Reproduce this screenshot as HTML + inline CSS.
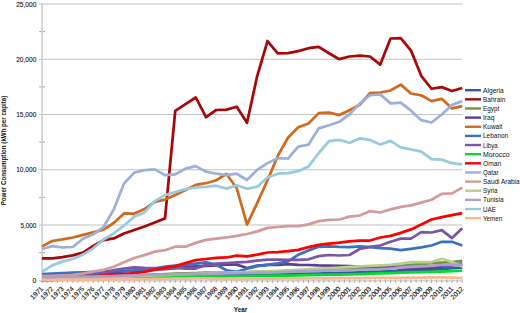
<!DOCTYPE html>
<html><head><meta charset="utf-8"><style>
html,body{margin:0;padding:0;background:#fff;}
body{width:520px;height:313px;overflow:hidden;}
svg{display:block;font-family:"Liberation Sans", sans-serif;}
</style></head><body>
<svg width="520" height="313" viewBox="0 0 520 313">
<line x1="39" y1="225.00" x2="462.3" y2="225.00" stroke="#c2c2c2" stroke-width="1.2"/>
<line x1="39" y1="169.75" x2="462.3" y2="169.75" stroke="#c2c2c2" stroke-width="1.2"/>
<line x1="39" y1="114.50" x2="462.3" y2="114.50" stroke="#c2c2c2" stroke-width="1.2"/>
<line x1="39" y1="59.25" x2="462.3" y2="59.25" stroke="#c2c2c2" stroke-width="1.2"/>
<line x1="39" y1="4.00" x2="462.3" y2="4.00" stroke="#c2c2c2" stroke-width="1.2"/>
<line x1="39.2" y1="252.62" x2="45" y2="252.62" stroke="#a8a8a8" stroke-width="1.0"/>
<line x1="39.2" y1="197.38" x2="45" y2="197.38" stroke="#a8a8a8" stroke-width="1.0"/>
<line x1="39.2" y1="142.12" x2="45" y2="142.12" stroke="#a8a8a8" stroke-width="1.0"/>
<line x1="39.2" y1="86.88" x2="45" y2="86.88" stroke="#a8a8a8" stroke-width="1.0"/>
<line x1="39.2" y1="31.62" x2="45" y2="31.62" stroke="#a8a8a8" stroke-width="1.0"/>
<line x1="42.1" y1="3.5" x2="42.1" y2="280.75" stroke="#cdcdcd" stroke-width="1.6"/>
<line x1="39" y1="280.85" x2="462.3" y2="280.85" stroke="#c9c9c9" stroke-width="1.2"/>
<line x1="42.00" y1="279.35" x2="42.00" y2="282.95" stroke="#a8a8a8" stroke-width="0.9"/>
<line x1="47.12" y1="279.35" x2="47.12" y2="282.95" stroke="#a8a8a8" stroke-width="0.9"/>
<line x1="52.25" y1="279.35" x2="52.25" y2="282.95" stroke="#a8a8a8" stroke-width="0.9"/>
<line x1="57.38" y1="279.35" x2="57.38" y2="282.95" stroke="#a8a8a8" stroke-width="0.9"/>
<line x1="62.50" y1="279.35" x2="62.50" y2="282.95" stroke="#a8a8a8" stroke-width="0.9"/>
<line x1="67.62" y1="279.35" x2="67.62" y2="282.95" stroke="#a8a8a8" stroke-width="0.9"/>
<line x1="72.75" y1="279.35" x2="72.75" y2="282.95" stroke="#a8a8a8" stroke-width="0.9"/>
<line x1="77.88" y1="279.35" x2="77.88" y2="282.95" stroke="#a8a8a8" stroke-width="0.9"/>
<line x1="83.00" y1="279.35" x2="83.00" y2="282.95" stroke="#a8a8a8" stroke-width="0.9"/>
<line x1="88.12" y1="279.35" x2="88.12" y2="282.95" stroke="#a8a8a8" stroke-width="0.9"/>
<line x1="93.25" y1="279.35" x2="93.25" y2="282.95" stroke="#a8a8a8" stroke-width="0.9"/>
<line x1="98.38" y1="279.35" x2="98.38" y2="282.95" stroke="#a8a8a8" stroke-width="0.9"/>
<line x1="103.50" y1="279.35" x2="103.50" y2="282.95" stroke="#a8a8a8" stroke-width="0.9"/>
<line x1="108.62" y1="279.35" x2="108.62" y2="282.95" stroke="#a8a8a8" stroke-width="0.9"/>
<line x1="113.75" y1="279.35" x2="113.75" y2="282.95" stroke="#a8a8a8" stroke-width="0.9"/>
<line x1="118.88" y1="279.35" x2="118.88" y2="282.95" stroke="#a8a8a8" stroke-width="0.9"/>
<line x1="124.00" y1="279.35" x2="124.00" y2="282.95" stroke="#a8a8a8" stroke-width="0.9"/>
<line x1="129.12" y1="279.35" x2="129.12" y2="282.95" stroke="#a8a8a8" stroke-width="0.9"/>
<line x1="134.25" y1="279.35" x2="134.25" y2="282.95" stroke="#a8a8a8" stroke-width="0.9"/>
<line x1="139.38" y1="279.35" x2="139.38" y2="282.95" stroke="#a8a8a8" stroke-width="0.9"/>
<line x1="144.50" y1="279.35" x2="144.50" y2="282.95" stroke="#a8a8a8" stroke-width="0.9"/>
<line x1="149.62" y1="279.35" x2="149.62" y2="282.95" stroke="#a8a8a8" stroke-width="0.9"/>
<line x1="154.75" y1="279.35" x2="154.75" y2="282.95" stroke="#a8a8a8" stroke-width="0.9"/>
<line x1="159.88" y1="279.35" x2="159.88" y2="282.95" stroke="#a8a8a8" stroke-width="0.9"/>
<line x1="165.00" y1="279.35" x2="165.00" y2="282.95" stroke="#a8a8a8" stroke-width="0.9"/>
<line x1="170.12" y1="279.35" x2="170.12" y2="282.95" stroke="#a8a8a8" stroke-width="0.9"/>
<line x1="175.25" y1="279.35" x2="175.25" y2="282.95" stroke="#a8a8a8" stroke-width="0.9"/>
<line x1="180.38" y1="279.35" x2="180.38" y2="282.95" stroke="#a8a8a8" stroke-width="0.9"/>
<line x1="185.50" y1="279.35" x2="185.50" y2="282.95" stroke="#a8a8a8" stroke-width="0.9"/>
<line x1="190.62" y1="279.35" x2="190.62" y2="282.95" stroke="#a8a8a8" stroke-width="0.9"/>
<line x1="195.75" y1="279.35" x2="195.75" y2="282.95" stroke="#a8a8a8" stroke-width="0.9"/>
<line x1="200.88" y1="279.35" x2="200.88" y2="282.95" stroke="#a8a8a8" stroke-width="0.9"/>
<line x1="206.00" y1="279.35" x2="206.00" y2="282.95" stroke="#a8a8a8" stroke-width="0.9"/>
<line x1="211.12" y1="279.35" x2="211.12" y2="282.95" stroke="#a8a8a8" stroke-width="0.9"/>
<line x1="216.25" y1="279.35" x2="216.25" y2="282.95" stroke="#a8a8a8" stroke-width="0.9"/>
<line x1="221.38" y1="279.35" x2="221.38" y2="282.95" stroke="#a8a8a8" stroke-width="0.9"/>
<line x1="226.50" y1="279.35" x2="226.50" y2="282.95" stroke="#a8a8a8" stroke-width="0.9"/>
<line x1="231.62" y1="279.35" x2="231.62" y2="282.95" stroke="#a8a8a8" stroke-width="0.9"/>
<line x1="236.75" y1="279.35" x2="236.75" y2="282.95" stroke="#a8a8a8" stroke-width="0.9"/>
<line x1="241.88" y1="279.35" x2="241.88" y2="282.95" stroke="#a8a8a8" stroke-width="0.9"/>
<line x1="247.00" y1="279.35" x2="247.00" y2="282.95" stroke="#a8a8a8" stroke-width="0.9"/>
<line x1="252.12" y1="279.35" x2="252.12" y2="282.95" stroke="#a8a8a8" stroke-width="0.9"/>
<line x1="257.25" y1="279.35" x2="257.25" y2="282.95" stroke="#a8a8a8" stroke-width="0.9"/>
<line x1="262.38" y1="279.35" x2="262.38" y2="282.95" stroke="#a8a8a8" stroke-width="0.9"/>
<line x1="267.50" y1="279.35" x2="267.50" y2="282.95" stroke="#a8a8a8" stroke-width="0.9"/>
<line x1="272.62" y1="279.35" x2="272.62" y2="282.95" stroke="#a8a8a8" stroke-width="0.9"/>
<line x1="277.75" y1="279.35" x2="277.75" y2="282.95" stroke="#a8a8a8" stroke-width="0.9"/>
<line x1="282.88" y1="279.35" x2="282.88" y2="282.95" stroke="#a8a8a8" stroke-width="0.9"/>
<line x1="288.00" y1="279.35" x2="288.00" y2="282.95" stroke="#a8a8a8" stroke-width="0.9"/>
<line x1="293.12" y1="279.35" x2="293.12" y2="282.95" stroke="#a8a8a8" stroke-width="0.9"/>
<line x1="298.25" y1="279.35" x2="298.25" y2="282.95" stroke="#a8a8a8" stroke-width="0.9"/>
<line x1="303.38" y1="279.35" x2="303.38" y2="282.95" stroke="#a8a8a8" stroke-width="0.9"/>
<line x1="308.50" y1="279.35" x2="308.50" y2="282.95" stroke="#a8a8a8" stroke-width="0.9"/>
<line x1="313.62" y1="279.35" x2="313.62" y2="282.95" stroke="#a8a8a8" stroke-width="0.9"/>
<line x1="318.75" y1="279.35" x2="318.75" y2="282.95" stroke="#a8a8a8" stroke-width="0.9"/>
<line x1="323.88" y1="279.35" x2="323.88" y2="282.95" stroke="#a8a8a8" stroke-width="0.9"/>
<line x1="329.00" y1="279.35" x2="329.00" y2="282.95" stroke="#a8a8a8" stroke-width="0.9"/>
<line x1="334.12" y1="279.35" x2="334.12" y2="282.95" stroke="#a8a8a8" stroke-width="0.9"/>
<line x1="339.25" y1="279.35" x2="339.25" y2="282.95" stroke="#a8a8a8" stroke-width="0.9"/>
<line x1="344.38" y1="279.35" x2="344.38" y2="282.95" stroke="#a8a8a8" stroke-width="0.9"/>
<line x1="349.50" y1="279.35" x2="349.50" y2="282.95" stroke="#a8a8a8" stroke-width="0.9"/>
<line x1="354.62" y1="279.35" x2="354.62" y2="282.95" stroke="#a8a8a8" stroke-width="0.9"/>
<line x1="359.75" y1="279.35" x2="359.75" y2="282.95" stroke="#a8a8a8" stroke-width="0.9"/>
<line x1="364.88" y1="279.35" x2="364.88" y2="282.95" stroke="#a8a8a8" stroke-width="0.9"/>
<line x1="370.00" y1="279.35" x2="370.00" y2="282.95" stroke="#a8a8a8" stroke-width="0.9"/>
<line x1="375.12" y1="279.35" x2="375.12" y2="282.95" stroke="#a8a8a8" stroke-width="0.9"/>
<line x1="380.25" y1="279.35" x2="380.25" y2="282.95" stroke="#a8a8a8" stroke-width="0.9"/>
<line x1="385.38" y1="279.35" x2="385.38" y2="282.95" stroke="#a8a8a8" stroke-width="0.9"/>
<line x1="390.50" y1="279.35" x2="390.50" y2="282.95" stroke="#a8a8a8" stroke-width="0.9"/>
<line x1="395.62" y1="279.35" x2="395.62" y2="282.95" stroke="#a8a8a8" stroke-width="0.9"/>
<line x1="400.75" y1="279.35" x2="400.75" y2="282.95" stroke="#a8a8a8" stroke-width="0.9"/>
<line x1="405.88" y1="279.35" x2="405.88" y2="282.95" stroke="#a8a8a8" stroke-width="0.9"/>
<line x1="411.00" y1="279.35" x2="411.00" y2="282.95" stroke="#a8a8a8" stroke-width="0.9"/>
<line x1="416.12" y1="279.35" x2="416.12" y2="282.95" stroke="#a8a8a8" stroke-width="0.9"/>
<line x1="421.25" y1="279.35" x2="421.25" y2="282.95" stroke="#a8a8a8" stroke-width="0.9"/>
<line x1="426.38" y1="279.35" x2="426.38" y2="282.95" stroke="#a8a8a8" stroke-width="0.9"/>
<line x1="431.50" y1="279.35" x2="431.50" y2="282.95" stroke="#a8a8a8" stroke-width="0.9"/>
<line x1="436.62" y1="279.35" x2="436.62" y2="282.95" stroke="#a8a8a8" stroke-width="0.9"/>
<line x1="441.75" y1="279.35" x2="441.75" y2="282.95" stroke="#a8a8a8" stroke-width="0.9"/>
<line x1="446.88" y1="279.35" x2="446.88" y2="282.95" stroke="#a8a8a8" stroke-width="0.9"/>
<line x1="452.00" y1="279.35" x2="452.00" y2="282.95" stroke="#a8a8a8" stroke-width="0.9"/>
<line x1="457.12" y1="279.35" x2="457.12" y2="282.95" stroke="#a8a8a8" stroke-width="0.9"/>
<line x1="462.25" y1="279.35" x2="462.25" y2="282.95" stroke="#a8a8a8" stroke-width="0.9"/>
<text x="36.3" y="282.85" text-anchor="end" font-size="7.4" fill="#111" stroke="#111" stroke-width="0.1" textLength="3.8" lengthAdjust="spacingAndGlyphs">0</text>
<text x="36.3" y="227.60" text-anchor="end" font-size="7.4" fill="#111" stroke="#111" stroke-width="0.1" textLength="15.9" lengthAdjust="spacingAndGlyphs">5,000</text>
<text x="36.3" y="172.35" text-anchor="end" font-size="7.4" fill="#111" stroke="#111" stroke-width="0.1" textLength="20.1" lengthAdjust="spacingAndGlyphs">10,000</text>
<text x="36.3" y="117.10" text-anchor="end" font-size="7.4" fill="#111" stroke="#111" stroke-width="0.1" textLength="20.1" lengthAdjust="spacingAndGlyphs">15,000</text>
<text x="36.3" y="61.85" text-anchor="end" font-size="7.4" fill="#111" stroke="#111" stroke-width="0.1" textLength="20.1" lengthAdjust="spacingAndGlyphs">20,000</text>
<text x="36.3" y="6.60" text-anchor="end" font-size="7.4" fill="#111" stroke="#111" stroke-width="0.1" textLength="20.1" lengthAdjust="spacingAndGlyphs">25,000</text>
<polyline points="42.00,278.37 52.25,278.21 62.50,278.04 72.75,277.87 83.00,277.71 93.25,277.49 103.50,277.16 113.75,276.82 124.00,276.49 134.25,276.16 144.50,275.83 154.75,275.50 165.00,275.28 175.25,274.95 185.50,274.73 195.75,274.50 206.00,274.39 216.25,274.28 226.50,274.28 236.75,274.28 247.00,274.17 257.25,274.06 267.50,273.95 277.75,274.06 288.00,273.95 298.25,273.84 308.50,273.73 318.75,273.51 329.00,273.18 339.25,272.85 349.50,272.63 359.75,272.29 370.00,271.85 380.25,271.52 390.50,271.08 400.75,270.75 411.00,270.42 421.25,269.86 431.50,269.75 441.75,269.20 452.00,268.21 462.25,267.54" fill="none" stroke="#2f5e9e" stroke-width="2.75" stroke-linejoin="round" stroke-linecap="butt"/>
<polyline points="42.00,258.40 52.25,258.26 62.50,257.05 72.75,255.39 83.00,252.70 93.25,246.00 103.50,240.11 113.75,238.48 124.00,233.50 134.25,229.99 144.50,226.44 154.75,222.46 165.00,218.37 175.25,110.91 185.50,104.20 195.75,97.48 206.00,117.19 216.25,110.00 226.50,109.60 236.75,106.76 247.00,122.79 257.25,75.82 267.50,41.02 277.75,53.39 288.00,53.06 298.25,51.07 308.50,48.20 318.75,46.90 329.00,53.28 339.25,59.19 349.50,56.50 359.75,55.70 370.00,56.50 380.25,64.60 390.50,38.50 400.75,38.14 411.00,50.63 421.25,75.82 431.50,88.75 441.75,87.15 452.00,90.96 462.25,88.04" fill="none" stroke="#a80808" stroke-width="2.75" stroke-linejoin="round" stroke-linecap="butt"/>
<polyline points="42.00,277.71 52.25,277.54 62.50,277.38 72.75,277.21 83.00,276.94 93.25,276.71 103.50,276.49 113.75,276.16 124.00,275.83 134.25,275.61 144.50,275.17 154.75,274.61 165.00,274.06 175.25,273.62 185.50,273.40 195.75,273.18 206.00,272.74 216.25,272.51 226.50,272.29 236.75,272.18 247.00,272.07 257.25,271.96 267.50,271.85 277.75,271.63 288.00,271.41 298.25,271.08 308.50,270.64 318.75,270.08 329.00,269.64 339.25,269.20 349.50,268.76 359.75,268.21 370.00,267.76 380.25,267.10 390.50,266.33 400.75,265.88 411.00,264.89 421.25,264.12 431.50,263.12 441.75,262.57 452.00,262.02 462.25,260.91" fill="none" stroke="#77933c" stroke-width="2.75" stroke-linejoin="round" stroke-linecap="butt"/>
<polyline points="42.00,276.94 52.25,276.60 62.50,276.16 72.75,275.72 83.00,275.28 93.25,274.50 103.50,273.62 113.75,272.51 124.00,271.41 134.25,270.86 144.50,270.31 154.75,269.75 165.00,269.20 175.25,268.10 185.50,266.99 195.75,266.44 206.00,265.88 216.25,265.50 226.50,264.56 236.75,264.67 247.00,267.98 257.25,265.55 267.50,264.89 277.75,264.78 288.00,264.01 298.25,264.78 308.50,265.00 318.75,265.44 329.00,265.55 339.25,265.88 349.50,266.00 359.75,266.66 370.00,267.10 380.25,266.99 390.50,266.22 400.75,269.20 411.00,268.65 421.25,268.10 431.50,267.54 441.75,266.71 452.00,265.33 462.25,263.68" fill="none" stroke="#5f3f8c" stroke-width="2.75" stroke-linejoin="round" stroke-linecap="butt"/>
<polyline points="42.00,246.40 52.25,241.00 62.50,239.40 72.75,237.50 83.00,234.90 93.25,232.30 103.50,229.60 113.75,223.00 124.00,213.40 134.25,213.55 144.50,209.09 154.75,201.79 165.00,199.58 175.25,195.10 185.50,190.00 195.75,184.90 206.00,183.23 216.25,180.25 226.50,173.95 236.75,188.20 247.00,224.67 257.25,202.80 267.50,180.25 277.75,155.94 288.00,137.76 298.25,127.30 308.50,123.45 318.75,113.11 329.00,112.71 339.25,115.11 349.50,110.30 359.75,104.80 370.00,93.06 380.25,92.50 390.50,90.50 400.75,84.66 411.00,93.50 421.25,95.30 431.50,101.10 441.75,98.80 452.00,108.40 462.25,106.20" fill="none" stroke="#d06a1e" stroke-width="2.75" stroke-linejoin="round" stroke-linecap="butt"/>
<polyline points="42.00,274.06 52.25,273.62 62.50,273.18 72.75,272.63 83.00,272.29 93.25,271.96 103.50,271.30 113.75,271.08 124.00,270.80 134.25,270.31 144.50,269.40 154.75,268.65 165.00,266.70 175.25,265.60 185.50,264.90 195.75,263.70 206.00,262.40 216.25,264.90 226.50,270.31 236.75,271.80 247.00,268.70 257.25,266.21 267.50,264.90 277.75,263.40 288.00,261.46 298.25,254.84 308.50,250.41 318.75,246.80 329.00,246.30 339.25,246.90 349.50,247.20 359.75,246.40 370.00,247.20 380.25,248.09 390.50,248.60 400.75,250.11 411.00,248.80 421.25,247.30 431.50,245.50 441.75,241.80 452.00,241.80 462.25,245.50" fill="none" stroke="#3a72c0" stroke-width="2.75" stroke-linejoin="round" stroke-linecap="butt"/>
<polyline points="42.00,277.49 52.25,277.16 62.50,276.71 72.75,276.27 83.00,275.83 93.25,275.28 103.50,273.01 113.75,270.08 124.00,268.50 134.25,267.30 144.50,267.90 154.75,268.10 165.00,268.10 175.25,268.00 185.50,268.70 195.75,268.54 206.00,264.90 216.25,263.70 226.50,263.00 236.75,262.40 247.00,261.80 257.25,260.60 267.50,259.70 277.75,259.70 288.00,259.80 298.25,259.80 308.50,259.30 318.75,256.09 329.00,255.00 339.25,255.50 349.50,255.00 359.75,249.00 370.00,246.90 380.25,245.50 390.50,241.80 400.75,238.60 411.00,238.60 421.25,232.20 431.50,232.50 441.75,230.11 452.00,238.11 462.25,228.30" fill="none" stroke="#7a55a8" stroke-width="2.75" stroke-linejoin="round" stroke-linecap="butt"/>
<polyline points="42.00,278.48 52.25,278.37 62.50,278.26 72.75,278.15 83.00,278.04 93.25,277.87 103.50,277.71 113.75,277.54 124.00,277.38 134.25,277.27 144.50,277.16 154.75,277.05 165.00,276.94 175.25,276.82 185.50,276.71 195.75,276.60 206.00,276.49 216.25,276.38 226.50,276.27 236.75,276.16 247.00,276.05 257.25,275.94 267.50,275.83 277.75,275.72 288.00,275.61 298.25,275.39 308.50,275.17 318.75,274.95 329.00,274.73 339.25,274.61 349.50,274.39 359.75,274.06 370.00,273.73 380.25,273.40 390.50,273.07 400.75,272.74 411.00,272.40 421.25,272.07 431.50,271.85 441.75,271.52 452.00,271.08 462.25,270.75" fill="none" stroke="#00dd30" stroke-width="2.75" stroke-linejoin="round" stroke-linecap="butt"/>
<polyline points="42.00,280.03 52.25,279.92 62.50,279.59 72.75,279.14 83.00,278.04 93.25,276.60 103.50,275.50 113.75,274.73 124.00,274.06 134.25,273.07 144.50,271.90 154.75,269.70 165.00,267.80 175.25,266.09 185.50,263.10 195.75,260.09 206.00,259.00 216.25,257.80 226.50,257.49 236.75,255.60 247.00,256.30 257.25,254.70 267.50,252.50 277.75,252.11 288.00,251.20 298.25,249.80 308.50,247.20 318.75,244.80 329.00,243.60 339.25,242.70 349.50,241.30 359.75,240.60 370.00,240.53 380.25,237.50 390.50,235.94 400.75,232.90 411.00,229.42 421.25,224.60 431.50,219.47 441.75,217.15 452.00,215.20 462.25,213.10" fill="none" stroke="#ff0000" stroke-width="2.75" stroke-linejoin="round" stroke-linecap="butt"/>
<polyline points="42.00,249.00 52.25,246.11 62.50,247.30 72.75,247.00 83.00,238.70 93.25,234.30 103.50,227.10 113.75,209.53 124.00,183.50 134.25,172.62 144.50,170.19 154.75,169.42 165.00,175.10 175.25,174.30 185.50,168.70 195.75,166.10 206.00,171.71 216.25,173.73 226.50,175.16 236.75,173.73 247.00,180.00 257.25,169.86 267.50,163.12 277.75,158.30 288.00,158.50 298.25,146.66 308.50,144.70 318.75,128.31 329.00,125.20 339.25,121.80 349.50,114.30 359.75,103.60 370.00,95.25 380.25,94.40 390.50,103.39 400.75,102.60 411.00,110.70 421.25,120.20 431.50,122.50 441.75,114.50 452.00,104.90 462.25,101.10" fill="none" stroke="#9db0da" stroke-width="2.75" stroke-linejoin="round" stroke-linecap="butt"/>
<polyline points="42.00,276.16 52.25,275.94 62.50,275.61 72.75,274.95 83.00,273.62 93.25,271.52 103.50,269.86 113.75,266.77 124.00,262.18 134.25,258.00 144.50,255.10 154.75,251.60 165.00,250.19 175.25,246.70 185.50,246.70 195.75,242.90 206.00,239.91 216.25,238.60 226.50,237.49 236.75,235.80 247.00,233.99 257.25,231.40 267.50,227.90 277.75,227.00 288.00,226.10 298.25,226.10 308.50,224.34 318.75,221.10 329.00,219.89 339.25,219.50 349.50,216.70 359.75,215.50 370.00,211.10 380.25,212.50 390.50,209.42 400.75,206.80 411.00,205.40 421.25,202.60 431.50,199.70 441.75,193.91 452.00,193.40 462.25,187.60" fill="none" stroke="#d49a99" stroke-width="2.75" stroke-linejoin="round" stroke-linecap="butt"/>
<polyline points="42.00,278.81 52.25,278.70 62.50,278.48 72.75,278.26 83.00,278.04 93.25,277.71 103.50,277.38 113.75,277.05 124.00,276.60 134.25,276.16 144.50,275.83 154.75,275.50 165.00,275.17 175.25,274.73 185.50,274.17 195.75,273.84 206.00,273.40 216.25,272.96 226.50,272.51 236.75,272.29 247.00,272.07 257.25,271.85 267.50,271.41 277.75,270.86 288.00,270.31 298.25,269.75 308.50,269.20 318.75,268.65 329.00,268.10 339.25,267.54 349.50,266.99 359.75,266.44 370.00,265.88 380.25,265.33 390.50,264.78 400.75,263.68 411.00,262.02 421.25,262.02 431.50,262.02 441.75,258.81 452.00,262.02 462.25,266.44" fill="none" stroke="#b5cf90" stroke-width="2.75" stroke-linejoin="round" stroke-linecap="butt"/>
<polyline points="42.00,277.82 52.25,277.60 62.50,277.38 72.75,277.16 83.00,276.94 93.25,276.71 103.50,276.38 113.75,276.05 124.00,275.61 134.25,275.28 144.50,274.95 154.75,274.73 165.00,274.50 175.25,274.28 185.50,274.06 195.75,273.95 206.00,273.84 216.25,273.62 226.50,273.40 236.75,273.18 247.00,272.96 257.25,272.74 267.50,272.51 277.75,272.29 288.00,271.85 298.25,271.41 308.50,271.08 318.75,270.75 329.00,270.53 339.25,270.31 349.50,270.08 359.75,269.75 370.00,269.42 380.25,269.09 390.50,268.65 400.75,267.54 411.00,266.99 421.25,266.44 431.50,265.88 441.75,264.78 452.00,264.78 462.25,264.56" fill="none" stroke="#ab9fd0" stroke-width="2.75" stroke-linejoin="round" stroke-linecap="butt"/>
<polyline points="42.00,271.80 52.25,265.40 62.50,261.60 72.75,259.00 83.00,254.60 93.25,248.32 103.50,239.48 113.75,233.50 124.00,225.50 134.25,216.60 144.50,212.40 154.75,201.13 165.00,195.16 175.25,191.96 185.50,189.10 195.75,187.50 206.00,186.80 216.25,185.71 226.50,188.60 236.75,185.30 247.00,188.80 257.25,186.70 267.50,177.50 277.75,173.69 288.00,173.10 298.25,171.20 308.50,166.40 318.75,153.00 329.00,141.02 339.25,139.89 349.50,142.80 359.75,138.40 370.00,139.89 380.25,144.50 390.50,140.90 400.75,147.34 411.00,149.50 421.25,151.59 431.50,159.20 441.75,159.60 452.00,163.20 462.25,164.40" fill="none" stroke="#98cade" stroke-width="2.75" stroke-linejoin="round" stroke-linecap="butt"/>
<polyline points="42.00,279.81 52.25,279.75 62.50,279.70 72.75,279.64 83.00,279.59 93.25,279.53 103.50,279.48 113.75,279.37 124.00,279.26 134.25,279.14 144.50,279.03 154.75,278.92 165.00,278.81 175.25,278.70 185.50,278.59 195.75,278.48 206.00,278.37 216.25,278.92 226.50,278.87 236.75,278.81 247.00,278.76 257.25,278.70 267.50,278.65 277.75,278.59 288.00,278.48 298.25,278.43 308.50,278.37 318.75,278.32 329.00,278.26 339.25,278.21 349.50,278.15 359.75,278.04 370.00,277.98 380.25,277.93 390.50,277.87 400.75,277.82 411.00,277.71 421.25,277.60 431.50,277.49 441.75,277.27 452.00,277.71 462.25,278.15" fill="none" stroke="#f8b890" stroke-width="2.75" stroke-linejoin="round" stroke-linecap="butt"/>
<text x="43.80" y="289.25" text-anchor="end" font-size="6.8" fill="#111" stroke="#111" stroke-width="0.12" transform="rotate(-45 43.80 289.25)">1971</text>
<text x="54.05" y="289.25" text-anchor="end" font-size="6.8" fill="#111" stroke="#111" stroke-width="0.12" transform="rotate(-45 54.05 289.25)">1972</text>
<text x="64.30" y="289.25" text-anchor="end" font-size="6.8" fill="#111" stroke="#111" stroke-width="0.12" transform="rotate(-45 64.30 289.25)">1973</text>
<text x="74.55" y="289.25" text-anchor="end" font-size="6.8" fill="#111" stroke="#111" stroke-width="0.12" transform="rotate(-45 74.55 289.25)">1974</text>
<text x="84.80" y="289.25" text-anchor="end" font-size="6.8" fill="#111" stroke="#111" stroke-width="0.12" transform="rotate(-45 84.80 289.25)">1975</text>
<text x="95.05" y="289.25" text-anchor="end" font-size="6.8" fill="#111" stroke="#111" stroke-width="0.12" transform="rotate(-45 95.05 289.25)">1976</text>
<text x="105.30" y="289.25" text-anchor="end" font-size="6.8" fill="#111" stroke="#111" stroke-width="0.12" transform="rotate(-45 105.30 289.25)">1977</text>
<text x="115.55" y="289.25" text-anchor="end" font-size="6.8" fill="#111" stroke="#111" stroke-width="0.12" transform="rotate(-45 115.55 289.25)">1978</text>
<text x="125.80" y="289.25" text-anchor="end" font-size="6.8" fill="#111" stroke="#111" stroke-width="0.12" transform="rotate(-45 125.80 289.25)">1979</text>
<text x="136.05" y="289.25" text-anchor="end" font-size="6.8" fill="#111" stroke="#111" stroke-width="0.12" transform="rotate(-45 136.05 289.25)">1980</text>
<text x="146.30" y="289.25" text-anchor="end" font-size="6.8" fill="#111" stroke="#111" stroke-width="0.12" transform="rotate(-45 146.30 289.25)">1981</text>
<text x="156.55" y="289.25" text-anchor="end" font-size="6.8" fill="#111" stroke="#111" stroke-width="0.12" transform="rotate(-45 156.55 289.25)">1982</text>
<text x="166.80" y="289.25" text-anchor="end" font-size="6.8" fill="#111" stroke="#111" stroke-width="0.12" transform="rotate(-45 166.80 289.25)">1983</text>
<text x="177.05" y="289.25" text-anchor="end" font-size="6.8" fill="#111" stroke="#111" stroke-width="0.12" transform="rotate(-45 177.05 289.25)">1984</text>
<text x="187.30" y="289.25" text-anchor="end" font-size="6.8" fill="#111" stroke="#111" stroke-width="0.12" transform="rotate(-45 187.30 289.25)">1985</text>
<text x="197.55" y="289.25" text-anchor="end" font-size="6.8" fill="#111" stroke="#111" stroke-width="0.12" transform="rotate(-45 197.55 289.25)">1986</text>
<text x="207.80" y="289.25" text-anchor="end" font-size="6.8" fill="#111" stroke="#111" stroke-width="0.12" transform="rotate(-45 207.80 289.25)">1987</text>
<text x="218.05" y="289.25" text-anchor="end" font-size="6.8" fill="#111" stroke="#111" stroke-width="0.12" transform="rotate(-45 218.05 289.25)">1988</text>
<text x="228.30" y="289.25" text-anchor="end" font-size="6.8" fill="#111" stroke="#111" stroke-width="0.12" transform="rotate(-45 228.30 289.25)">1989</text>
<text x="238.55" y="289.25" text-anchor="end" font-size="6.8" fill="#111" stroke="#111" stroke-width="0.12" transform="rotate(-45 238.55 289.25)">1990</text>
<text x="248.80" y="289.25" text-anchor="end" font-size="6.8" fill="#111" stroke="#111" stroke-width="0.12" transform="rotate(-45 248.80 289.25)">1991</text>
<text x="259.05" y="289.25" text-anchor="end" font-size="6.8" fill="#111" stroke="#111" stroke-width="0.12" transform="rotate(-45 259.05 289.25)">1992</text>
<text x="269.30" y="289.25" text-anchor="end" font-size="6.8" fill="#111" stroke="#111" stroke-width="0.12" transform="rotate(-45 269.30 289.25)">1993</text>
<text x="279.55" y="289.25" text-anchor="end" font-size="6.8" fill="#111" stroke="#111" stroke-width="0.12" transform="rotate(-45 279.55 289.25)">1994</text>
<text x="289.80" y="289.25" text-anchor="end" font-size="6.8" fill="#111" stroke="#111" stroke-width="0.12" transform="rotate(-45 289.80 289.25)">1995</text>
<text x="300.05" y="289.25" text-anchor="end" font-size="6.8" fill="#111" stroke="#111" stroke-width="0.12" transform="rotate(-45 300.05 289.25)">1996</text>
<text x="310.30" y="289.25" text-anchor="end" font-size="6.8" fill="#111" stroke="#111" stroke-width="0.12" transform="rotate(-45 310.30 289.25)">1997</text>
<text x="320.55" y="289.25" text-anchor="end" font-size="6.8" fill="#111" stroke="#111" stroke-width="0.12" transform="rotate(-45 320.55 289.25)">1998</text>
<text x="330.80" y="289.25" text-anchor="end" font-size="6.8" fill="#111" stroke="#111" stroke-width="0.12" transform="rotate(-45 330.80 289.25)">1999</text>
<text x="341.05" y="289.25" text-anchor="end" font-size="6.8" fill="#111" stroke="#111" stroke-width="0.12" transform="rotate(-45 341.05 289.25)">2000</text>
<text x="351.30" y="289.25" text-anchor="end" font-size="6.8" fill="#111" stroke="#111" stroke-width="0.12" transform="rotate(-45 351.30 289.25)">2001</text>
<text x="361.55" y="289.25" text-anchor="end" font-size="6.8" fill="#111" stroke="#111" stroke-width="0.12" transform="rotate(-45 361.55 289.25)">2002</text>
<text x="371.80" y="289.25" text-anchor="end" font-size="6.8" fill="#111" stroke="#111" stroke-width="0.12" transform="rotate(-45 371.80 289.25)">2003</text>
<text x="382.05" y="289.25" text-anchor="end" font-size="6.8" fill="#111" stroke="#111" stroke-width="0.12" transform="rotate(-45 382.05 289.25)">2004</text>
<text x="392.30" y="289.25" text-anchor="end" font-size="6.8" fill="#111" stroke="#111" stroke-width="0.12" transform="rotate(-45 392.30 289.25)">2005</text>
<text x="402.55" y="289.25" text-anchor="end" font-size="6.8" fill="#111" stroke="#111" stroke-width="0.12" transform="rotate(-45 402.55 289.25)">2006</text>
<text x="412.80" y="289.25" text-anchor="end" font-size="6.8" fill="#111" stroke="#111" stroke-width="0.12" transform="rotate(-45 412.80 289.25)">2007</text>
<text x="423.05" y="289.25" text-anchor="end" font-size="6.8" fill="#111" stroke="#111" stroke-width="0.12" transform="rotate(-45 423.05 289.25)">2008</text>
<text x="433.30" y="289.25" text-anchor="end" font-size="6.8" fill="#111" stroke="#111" stroke-width="0.12" transform="rotate(-45 433.30 289.25)">2009</text>
<text x="443.55" y="289.25" text-anchor="end" font-size="6.8" fill="#111" stroke="#111" stroke-width="0.12" transform="rotate(-45 443.55 289.25)">2010</text>
<text x="453.80" y="289.25" text-anchor="end" font-size="6.8" fill="#111" stroke="#111" stroke-width="0.12" transform="rotate(-45 453.80 289.25)">2011</text>
<text x="464.05" y="289.25" text-anchor="end" font-size="6.8" fill="#111" stroke="#111" stroke-width="0.12" transform="rotate(-45 464.05 289.25)">2012</text>
<text x="240.5" y="311.8" text-anchor="middle" font-size="6.9" font-weight="bold" fill="#111" textLength="13.3" lengthAdjust="spacingAndGlyphs">Year</text>
<text x="0" y="0" text-anchor="middle" font-size="6.6" font-weight="bold" fill="#111" textLength="109.5" lengthAdjust="spacingAndGlyphs" transform="translate(6.3 150.5) rotate(-90)">Power Consumption (kWh per capita)</text>
<line x1="465" y1="90.20" x2="481" y2="90.20" stroke="#2f5e9e" stroke-width="2.4"/>
<text x="483" y="92.70" font-size="7.2" fill="#111" textLength="20.8" lengthAdjust="spacingAndGlyphs">Algeria</text>
<line x1="465" y1="99.34" x2="481" y2="99.34" stroke="#a80808" stroke-width="2.4"/>
<text x="483" y="101.84" font-size="7.2" fill="#111" textLength="22.4" lengthAdjust="spacingAndGlyphs">Bahrain</text>
<line x1="465" y1="108.48" x2="481" y2="108.48" stroke="#77933c" stroke-width="2.4"/>
<text x="483" y="110.98" font-size="7.2" fill="#111" textLength="16.2" lengthAdjust="spacingAndGlyphs">Egypt</text>
<line x1="465" y1="117.62" x2="481" y2="117.62" stroke="#5f3f8c" stroke-width="2.4"/>
<text x="483" y="120.12" font-size="7.2" fill="#111" textLength="11.5" lengthAdjust="spacingAndGlyphs">Iraq</text>
<line x1="465" y1="126.76" x2="481" y2="126.76" stroke="#d06a1e" stroke-width="2.4"/>
<text x="483" y="129.26" font-size="7.2" fill="#111" textLength="19.4" lengthAdjust="spacingAndGlyphs">Kuwait</text>
<line x1="465" y1="135.90" x2="481" y2="135.90" stroke="#3a72c0" stroke-width="2.4"/>
<text x="483" y="138.40" font-size="7.2" fill="#111" textLength="25.2" lengthAdjust="spacingAndGlyphs">Lebanon</text>
<line x1="465" y1="145.04" x2="481" y2="145.04" stroke="#7a55a8" stroke-width="2.4"/>
<text x="483" y="147.54" font-size="7.2" fill="#111" textLength="14.6" lengthAdjust="spacingAndGlyphs">Libya</text>
<line x1="465" y1="154.18" x2="481" y2="154.18" stroke="#00dd30" stroke-width="2.4"/>
<text x="483" y="156.68" font-size="7.2" fill="#111" textLength="26.5" lengthAdjust="spacingAndGlyphs">Morocco</text>
<line x1="465" y1="163.32" x2="481" y2="163.32" stroke="#ff0000" stroke-width="2.4"/>
<text x="483" y="165.82" font-size="7.2" fill="#111" textLength="18.1" lengthAdjust="spacingAndGlyphs">Oman</text>
<line x1="465" y1="172.46" x2="481" y2="172.46" stroke="#9db0da" stroke-width="2.4"/>
<text x="483" y="174.96" font-size="7.2" fill="#111" textLength="15.6" lengthAdjust="spacingAndGlyphs">Qatar</text>
<line x1="465" y1="181.60" x2="481" y2="181.60" stroke="#d49a99" stroke-width="2.4"/>
<text x="483" y="184.10" font-size="7.2" fill="#111" textLength="36.6" lengthAdjust="spacingAndGlyphs">Saudi Arabia</text>
<line x1="465" y1="190.74" x2="481" y2="190.74" stroke="#b5cf90" stroke-width="2.4"/>
<text x="483" y="193.24" font-size="7.2" fill="#111" textLength="14.5" lengthAdjust="spacingAndGlyphs">Syria</text>
<line x1="465" y1="199.88" x2="481" y2="199.88" stroke="#ab9fd0" stroke-width="2.4"/>
<text x="483" y="202.38" font-size="7.2" fill="#111" textLength="20.6" lengthAdjust="spacingAndGlyphs">Tunisia</text>
<line x1="465" y1="209.02" x2="481" y2="209.02" stroke="#98cade" stroke-width="2.4"/>
<text x="483" y="211.52" font-size="7.2" fill="#111" textLength="12.9" lengthAdjust="spacingAndGlyphs">UAE</text>
<line x1="465" y1="218.16" x2="481" y2="218.16" stroke="#f8b890" stroke-width="2.4"/>
<text x="483" y="220.66" font-size="7.2" fill="#111" textLength="19.3" lengthAdjust="spacingAndGlyphs">Yemen</text>
</svg>
</body></html>
